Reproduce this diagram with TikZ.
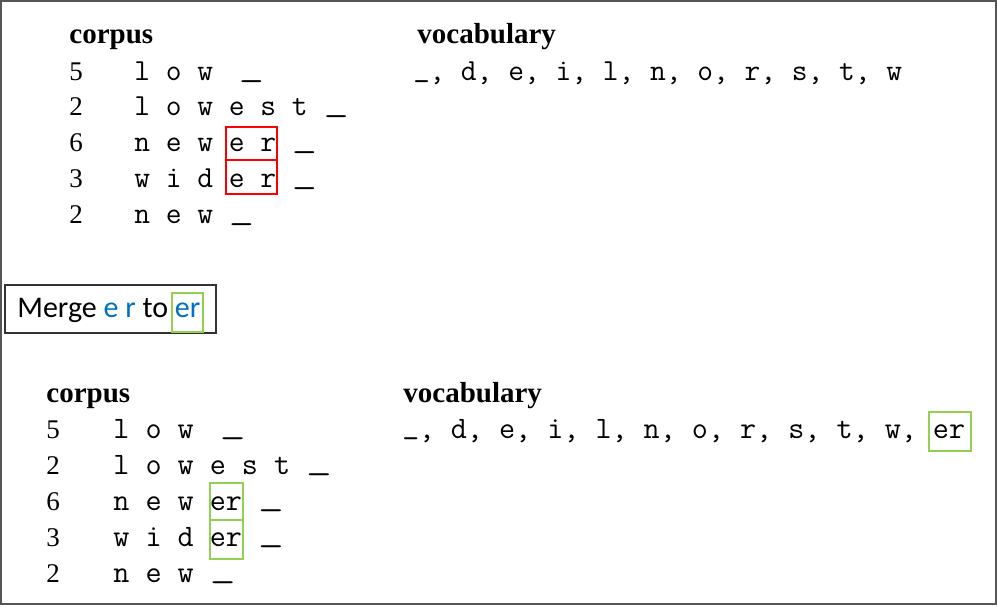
\documentclass[tikz,border=0pt]{standalone}
\usepackage{fontspec}
\setmainfont{Liberation Serif}
\newfontfamily\officefont{Carlito}
\usetikzlibrary{positioning}
\definecolor{mergeblue}{HTML}{0070C0}
\definecolor{mergegreen}{HTML}{92D050}
\definecolor{framegray}{HTML}{555555}
% end-of-word mark: underscore set on the baseline, one cell wide
\newcommand{\eow}[1][1.6]{\makebox[0.525em][l]{\raisebox{0.13em}{\scalebox{#1}[1]{\_}}}}

\begin{document}
\begin{tikzpicture}[x=0.5pt, y=-0.5pt, inner sep=0pt]
    \tikzstyle{heading}=[anchor=base west, font=\fontsize{14.5}{17}\selectfont\bfseries]
    \tikzstyle{freq}=[anchor=base west, font=\fontsize{13.5}{16}\selectfont]
    \tikzstyle{symbols}=[anchor=base west, font=\fontsize{15.3}{18}\selectfont\ttfamily]
    \tikzstyle{symbolsB}=[symbols, font=\fontsize{15.6}{18}\selectfont\ttfamily]
    \tikzstyle{pairbox}=[draw=red, line width=1pt]
    \tikzstyle{tokenbox}=[draw=mergegreen, line width=1pt]

    \useasboundingbox (0,0) rectangle (997,606);
    \draw[framegray, line width=1.2pt] (1,1) rectangle (996,604);

    % before the merge
    \node[heading] (corpusA) at (69,43) {corpus};
    \node[heading] (vocabA) at (417,43) {vocabulary};
    \foreach \n/\w [count=\i] in {5/{l o w \kern5pt\eow}, 2/{l o w e s t \eow},
                                  6/{n e w e r \eow}, 3/{w i d e r \eow}, 2/{n e w \eow}} {
        \node[freq] (freqA\i) at (69,{80+35.8*(\i-1)}) {\n};
        \node[symbols] (wordA\i) at (134,{80+35.8*(\i-1)}) {\w};
    }
    \node[symbols] (tokensA) at (413,80) {\eow[1.05], d, e, i, l, n, o, r, s, t, w};
    \draw[pairbox] (226,127) rectangle (277,160);
    \draw[pairbox] (226,160) rectangle (277,194);

    % merge step
    \draw[black!80, line width=0.7pt] (5,285) rectangle (216,333);
    \node[anchor=base west, font=\officefont\fontsize{15}{18}\selectfont] (merge) at (17,317)
        {Merge \textcolor{mergeblue}{e r} to \textcolor{mergeblue}{er}};
    \draw[tokenbox] (172,293) rectangle (203,332);

    % after the merge
    \node[heading] (corpusB) at (46,402) {corpus};
    \node[heading] (vocabB) at (403,402) {vocabulary};
    \foreach \n/\w [count=\i] in {5/{l o w \kern5pt\eow}, 2/{l o w e s t \eow},
                                  6/{n e w er \eow}, 3/{w i d er \eow}, 2/{n e w \eow}} {
        \node[freq] (freqB\i) at (46,{438+36*(\i-1)}) {\n};
        \node[symbolsB] (wordB\i) at (113,{438+36*(\i-1)}) {\w};
    }
    \node[symbolsB] (tokensB) at (402,438) {\eow[1.05], d, e, i, l, n, o, r, s, t, w, er};
    \draw[tokenbox] (210,483) rectangle (243,520);
    \draw[tokenbox] (210,520) rectangle (243,559);
    \draw[tokenbox] (929,412) rectangle (971,451);
\end{tikzpicture}
\end{document}
